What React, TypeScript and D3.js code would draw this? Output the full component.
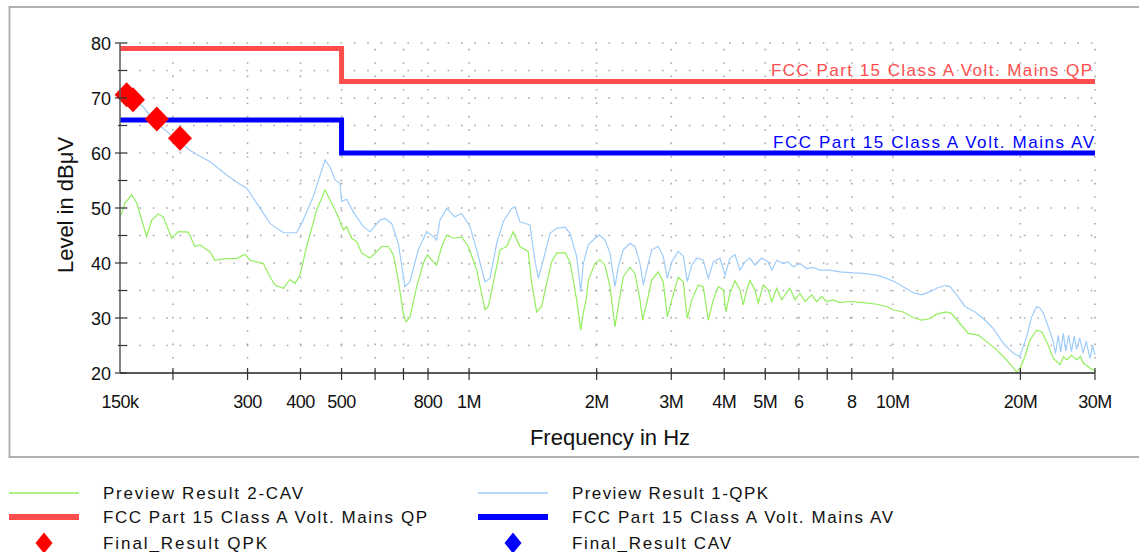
import React, { useEffect, useRef } from 'react';
import * as d3 from 'd3';

// Preview Result 1-QPK (frequency in MHz, level in dBµV)
const qpkFreq = [
  0.150, 0.1514, 0.1702, 0.1795, 0.1915, 0.2041, 0.2194, 0.2295, 0.2446, 0.2679, 0.2853, 0.2986,
  0.3153, 0.3389, 0.3643, 0.3918, 0.4026, 0.4288, 0.4570, 0.4695, 0.4824, 0.4957, 0.5003, 0.5141,
  0.5329, 0.5627, 0.5835, 0.6161, 0.6331, 0.6565, 0.6805, 0.7057, 0.7252, 0.7586, 0.7941, 0.8230,
  0.8384, 0.8536, 0.8853, 0.9260, 0.9604, 1.0047, 1.042, 1.090, 1.120, 1.162, 1.204, 1.260,
  1.283, 1.318, 1.392, 1.430, 1.456, 1.496, 1.552, 1.609, 1.684, 1.730, 1.794, 1.834,
  1.860, 1.911, 1.982, 2.029, 2.092, 2.150, 2.209, 2.249, 2.311, 2.397, 2.463, 2.531,
  2.577, 2.625, 2.697, 2.795, 2.872, 2.936, 3.007, 3.116, 3.202, 3.273, 3.352, 3.444,
  3.570, 3.668, 3.769, 3.909, 4.017, 4.127, 4.241, 4.358, 4.478, 4.601, 4.728, 4.903,
  5.082, 5.177, 5.319, 5.514, 5.665, 5.821, 6.037, 6.261, 6.490, 6.730, 7.106, 7.503,
  8.065, 8.516, 9.159, 9.670, 10.21, 10.58, 11.17, 11.70, 12.24, 12.69, 13.27, 13.64,
  14.15, 14.80, 15.63, 16.35, 17.26, 18.22, 19.24, 19.95, 20.31, 20.69, 21.26, 21.85,
  22.24, 22.65, 23.27, 23.91, 24.20, 24.57, 24.90, 25.25, 25.60, 26.00, 26.40, 26.80,
  27.15, 27.60, 28.14, 28.60, 29.19, 29.60, 30.00
];
const qpkLevel = [
  71.8, 70.9, 68.4, 66.0, 64.2, 62.4, 60.5, 59.6, 58.4, 56.0, 54.5, 53.6,
  50.9, 47.2, 45.5, 45.5, 47.2, 52.1, 58.7, 57.5, 55.1, 54.5, 51.2, 51.6,
  49.3, 46.6, 45.7, 47.8, 48.1, 47.2, 43.6, 35.7, 36.6, 42.4, 45.7, 44.8,
  44.2, 47.8, 49.9, 48.4, 49.0, 46.6, 42.4, 36.6, 37.2, 43.6, 47.5, 49.9,
  50.2, 47.5, 46.9, 40.5, 37.2, 40.5, 45.4, 46.3, 46.5, 45.4, 41.2, 34.8,
  39.9, 43.3, 44.5, 45.1, 44.2, 41.8, 35.7, 39.3, 42.4, 43.6, 43.0, 39.9,
  36.0, 38.7, 42.4, 43.0, 41.2, 37.2, 40.2, 42.1, 41.2, 36.6, 39.6, 40.9,
  40.5, 37.2, 40.2, 40.9, 37.8, 40.9, 41.5, 38.7, 40.2, 40.9, 39.6, 40.9,
  40.2, 38.7, 40.5, 39.9, 40.2, 39.3, 39.9, 39.0, 39.2, 38.7, 38.7, 38.4,
  38.2, 38.1, 37.8, 37.2, 36.4, 35.7, 34.6, 34.2, 34.8, 35.4, 35.9, 35.7,
  34.2, 32.1, 31.1, 29.9, 28.1, 25.4, 23.6, 23.0, 24.8, 26.6, 30.2, 32.1,
  31.8, 30.9, 28.4, 25.7, 23.5, 26.8, 23.8, 27.2, 24.0, 26.9, 23.9, 26.7,
  24.3, 26.4, 23.6, 25.8, 22.6, 25.0, 23.3
];

// Preview Result 2-CAV
const cavFreq = [
  0.150, 0.1514, 0.1541, 0.1598, 0.1643, 0.1734, 0.1782, 0.1847, 0.1898, 0.1986, 0.2059, 0.2174,
  0.2254, 0.2317, 0.2446, 0.2513, 0.2654, 0.2828, 0.2958, 0.3040, 0.3268, 0.3389, 0.3482, 0.3643,
  0.3778, 0.3882, 0.3989, 0.4137, 0.4368, 0.4570, 0.4738, 0.4911, 0.5047, 0.5141, 0.5282, 0.5428,
  0.5578, 0.5835, 0.6051, 0.6218, 0.6445, 0.6623, 0.6805, 0.6992, 0.7096, 0.7252, 0.7521, 0.7796,
  0.7967, 0.8230, 0.8384, 0.8615, 0.8853, 0.9175, 0.9604, 0.9955, 1.042, 1.090, 1.110, 1.140,
  1.183, 1.226, 1.271, 1.318, 1.379, 1.405, 1.444, 1.483, 1.524, 1.566, 1.609, 1.684,
  1.730, 1.794, 1.834, 1.860, 1.894, 1.911, 1.982, 2.036, 2.092, 2.150, 2.209, 2.249,
  2.311, 2.397, 2.463, 2.531, 2.568, 2.625, 2.697, 2.795, 2.872, 2.936, 3.007, 3.116,
  3.202, 3.273, 3.352, 3.474, 3.570, 3.668, 3.769, 3.873, 3.980, 4.038, 4.127, 4.241,
  4.358, 4.436, 4.519, 4.601, 4.728, 4.813, 4.946, 5.082, 5.177, 5.319, 5.466, 5.565,
  5.718, 5.875, 6.037, 6.204, 6.433, 6.611, 6.793, 6.980, 7.235, 7.503, 7.922, 8.516,
  9.159, 9.670, 10.02, 10.58, 11.17, 11.70, 12.24, 12.69, 13.40, 13.77, 14.40, 15.07,
  15.91, 16.65, 17.58, 18.56, 19.60, 19.95, 20.50, 21.07, 21.85, 22.45, 23.07, 23.91,
  24.80, 25.30, 25.72, 26.40, 27.15, 27.70, 28.14, 29.19, 30.00
];
const cavLevel = [
  48.5, 49.0, 50.9, 52.4, 50.9, 44.8, 47.8, 48.9, 48.4, 44.5, 45.7, 45.6,
  43.0, 43.3, 42.0, 40.5, 40.8, 40.8, 41.6, 40.5, 39.9, 37.5, 36.0, 35.4,
  37.0, 36.3, 37.8, 43.0, 49.6, 53.3, 50.9, 48.4, 46.0, 46.6, 44.5, 43.9,
  41.8, 40.9, 42.1, 43.0, 43.0, 41.5, 36.9, 30.9, 29.3, 30.2, 35.7, 39.9,
  41.5, 40.2, 39.6, 43.0, 45.1, 44.5, 44.7, 43.0, 38.7, 31.5, 32.1, 36.3,
  42.4, 43.0, 45.7, 43.0, 42.1, 36.3, 31.1, 32.1, 36.3, 40.2, 41.8, 41.9,
  40.2, 33.3, 27.8, 30.9, 33.9, 36.9, 39.9, 40.6, 39.6, 35.7, 28.4, 32.1,
  37.5, 39.2, 38.1, 33.3, 29.6, 32.7, 36.9, 38.4, 36.6, 30.2, 33.3, 37.4,
  36.6, 29.9, 33.3, 36.0, 35.7, 29.6, 33.3, 35.7, 35.1, 31.1, 34.5, 36.8,
  35.1, 32.4, 35.1, 36.8, 35.1, 32.7, 36.0, 35.1, 33.0, 35.4, 33.3, 34.2,
  35.4, 33.3, 34.5, 33.0, 34.2, 33.0, 33.9, 33.0, 33.3, 32.8, 33.0, 32.8,
  32.5, 32.1, 31.5, 31.1, 30.1, 29.6, 29.9, 30.7, 31.1, 30.8, 29.0, 27.2,
  26.9, 25.7, 24.2, 22.4, 20.2, 20.8, 23.0, 26.0, 27.8, 27.5, 25.7, 22.7,
  21.5, 23.0, 22.4, 23.2, 22.4, 23.0, 21.8, 20.9, 20.3
];

// Limits (FCC Part 15 Class A, conducted)
const limitFreq = [0.15, 0.5, 0.5, 30];
const qpLimit = [79, 79, 73, 73];
const avLimit = [66, 66, 60, 60];

// Final_Result QPK markers
const finalQpkFreq = [0.1555, 0.1610, 0.1832, 0.2078];
const finalQpkLevel = [70.6, 69.7, 66.2, 62.7];

const yTicks = [20, 25, 30, 35, 40, 45, 50, 55, 60, 65, 70, 75, 80];
const xTicks = [0.2, 0.3, 0.4, 0.5, 0.6, 0.7, 0.8, 1, 2, 3, 4, 5, 6, 7, 8, 10, 20, 30];
const xLabels: [number, string][] = [
  [0.15, '150k'], [0.3, '300'], [0.4, '400'], [0.5, '500'], [0.8, '800'], [1, '1M'],
  [2, '2M'], [3, '3M'], [4, '4M'], [5, '5M'], [6, '6'], [8, '8'], [10, '10M'],
  [20, '20M'], [30, '30M'],
];

const QP_RED = '#ff4d4d';
const AV_BLUE = '#0000ff';
const QPK_COLOR = '#9fcdfb';
const CAV_COLOR = '#93ee5e';
const FONT = '"Liberation Sans", Arial, sans-serif';

const W = 1139;
const H = 552;

const App: React.FC = () => {
  const svgRef = useRef<SVGSVGElement>(null);

  useEffect(() => {
    if (!svgRef.current) return;
    const svg = d3.select(svgRef.current);
    svg.selectAll('*').remove();

    const x = d3.scaleLog().domain([0.15, 30]).range([120, 1095]);
    const y = d3.scaleLinear().domain([20, 80]).range([373, 43]);

    // outer frame (runs off to the right)
    svg.append('rect')
      .attr('x', 9.5).attr('y', 7)
      .attr('width', 1160).attr('height', 450)
      .attr('fill', 'none')
      .attr('stroke', '#b0b0b0')
      .attr('stroke-width', 2);

    // dotted grid
    const grid = svg.append('g').attr('stroke', '#a8a8a8').attr('stroke-width', 1.6)
      .attr('stroke-dasharray', '1.6 11.8');
    yTicks.filter(t => t > 20).forEach(t => {
      grid.append('line').attr('x1', 126).attr('x2', 1095)
        .attr('y1', y(t)).attr('y2', y(t));
    });
    xTicks.forEach(t => {
      grid.append('line').attr('x1', x(t)).attr('x2', x(t))
        .attr('y1', 372).attr('y2', 43);
    });

    svg.append('clipPath').attr('id', 'plotClip')
      .append('rect').attr('x', 120).attr('y', 40).attr('width', 976).attr('height', 334);

    const line = d3.line<[number, number]>()
      .x(d => x(d[0]))
      .y(d => y(d[1]));

    const plot = svg.append('g').attr('clip-path', 'url(#plotClip)');

    plot.append('path')
      .datum(cavFreq.map((f, i) => [f, cavLevel[i]] as [number, number]))
      .attr('d', line)
      .attr('fill', 'none')
      .attr('stroke', CAV_COLOR)
      .attr('stroke-width', 1.2);

    plot.append('path')
      .datum(qpkFreq.map((f, i) => [f, qpkLevel[i]] as [number, number]))
      .attr('d', line)
      .attr('fill', 'none')
      .attr('stroke', QPK_COLOR)
      .attr('stroke-width', 1.2);

    // limit lines
    plot.append('path')
      .datum(limitFreq.map((f, i) => [f, qpLimit[i]] as [number, number]))
      .attr('d', line)
      .attr('fill', 'none')
      .attr('stroke', QP_RED)
      .attr('stroke-width', 5);

    plot.append('path')
      .datum(limitFreq.map((f, i) => [f, avLimit[i]] as [number, number]))
      .attr('d', line)
      .attr('fill', 'none')
      .attr('stroke', AV_BLUE)
      .attr('stroke-width', 5);

    // limit labels
    svg.append('text')
      .attr('x', 771).attr('y', 76)
      .attr('textLength', 321).attr('lengthAdjust', 'spacing')
      .attr('font-family', FONT).attr('font-size', 17)
      .attr('fill', QP_RED)
      .text('FCC Part 15 Class A Volt. Mains QP');
    svg.append('text')
      .attr('x', 773).attr('y', 148)
      .attr('textLength', 321).attr('lengthAdjust', 'spacing')
      .attr('font-family', FONT).attr('font-size', 17)
      .attr('fill', AV_BLUE)
      .text('FCC Part 15 Class A Volt. Mains AV');

    // final result markers
    const diamond = 'M0,-12.5L12,0L0,12.5L-12,0Z';
    svg.append('g').selectAll('path')
      .data(finalQpkFreq.map((f, i) => [f, finalQpkLevel[i]]))
      .join('path')
      .attr('d', diamond)
      .attr('transform', d => `translate(${x(d[0])},${y(d[1])})`)
      .attr('fill', '#ff0000');

    // axes
    const axisColor = '#5a5a5a';
    svg.append('line').attr('x1', 120).attr('x2', 120).attr('y1', 43).attr('y2', 373)
      .attr('stroke', axisColor).attr('stroke-width', 1.5);
    svg.append('line').attr('x1', 120).attr('x2', 1095).attr('y1', 373).attr('y2', 373)
      .attr('stroke', axisColor).attr('stroke-width', 1.8);

    yTicks.forEach(t => {
      const major = t % 10 === 0;
      svg.append('line')
        .attr('x1', major ? 115 : 118).attr('x2', 127)
        .attr('y1', y(t)).attr('y2', y(t))
        .attr('stroke', '#333').attr('stroke-width', 1.2);
      if (major) {
        svg.append('text')
          .attr('x', 111).attr('y', y(t) + 7)
          .attr('text-anchor', 'end')
          .attr('font-family', FONT).attr('font-size', 18)
          .attr('fill', '#111')
          .text(String(t));
      }
    });

    xTicks.forEach(t => {
      svg.append('line')
        .attr('x1', x(t)).attr('x2', x(t))
        .attr('y1', 368).attr('y2', 380)
        .attr('stroke', '#333').attr('stroke-width', 1.2);
    });

    xLabels.forEach(([f, label]) => {
      svg.append('text')
        .attr('x', x(f)).attr('y', 408)
        .attr('text-anchor', 'middle')
        .attr('font-family', FONT).attr('font-size', 18)
        .attr('letter-spacing', -0.5)
        .attr('fill', '#111')
        .text(label);
    });

    svg.append('text')
      .attr('transform', 'translate(73,205) rotate(-90)')
      .attr('text-anchor', 'middle')
      .attr('font-family', FONT).attr('font-size', 22)
      .attr('fill', '#111')
      .text('Level in dBμV');

    svg.append('text')
      .attr('x', 610).attr('y', 445)
      .attr('text-anchor', 'middle')
      .attr('font-family', FONT).attr('font-size', 22)
      .attr('fill', '#111')
      .text('Frequency in Hz');

    // legend
    const legendItems = [
      { label: 'Preview Result 2-CAV', kind: 'line', color: CAV_COLOR, width: 1.5, col: 0, row: 0, len: 200 },
      { label: 'Preview Result 1-QPK', kind: 'line', color: QPK_COLOR, width: 1.5, col: 1, row: 0, len: 196 },
      { label: 'FCC Part 15 Class A Volt. Mains QP', kind: 'line', color: QP_RED, width: 6, col: 0, row: 1, len: 324 },
      { label: 'FCC Part 15 Class A Volt. Mains AV', kind: 'line', color: AV_BLUE, width: 6, col: 1, row: 1, len: 321 },
      { label: 'Final_Result QPK', kind: 'diamond', color: '#ff0000', width: 0, col: 0, row: 2, len: 164 },
      { label: 'Final_Result CAV', kind: 'diamond', color: '#0000ff', width: 0, col: 1, row: 2, len: 159 },
    ];
    const colX = [9, 478];
    const rowY = [493, 517, 543];
    legendItems.forEach(item => {
      const x0 = colX[item.col];
      const yc = rowY[item.row];
      if (item.kind === 'line') {
        svg.append('line')
          .attr('x1', x0).attr('x2', x0 + 70)
          .attr('y1', yc).attr('y2', yc)
          .attr('stroke', item.color).attr('stroke-width', item.width);
      } else {
        svg.append('path')
          .attr('d', 'M0,-10.5L8.5,0L0,10.5L-8.5,0Z')
          .attr('transform', `translate(${x0 + 35},${yc})`)
          .attr('fill', item.color);
      }
      svg.append('text')
        .attr('x', x0 + 94).attr('y', yc + 6)
        .attr('textLength', item.len).attr('lengthAdjust', 'spacing')
        .attr('font-family', FONT).attr('font-size', 17)
        .attr('fill', '#111')
        .text(item.label);
    });
  }, []);

  return (
    <svg
      ref={svgRef}
      width={W}
      height={H}
      style={{ position: 'absolute', left: 0, top: 0, background: '#fff' }}
    />
  );
};

export default App;
